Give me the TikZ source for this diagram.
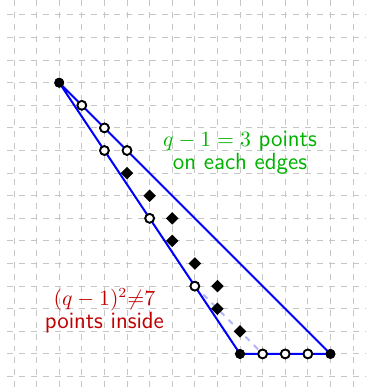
\documentclass[tikz,border=0pt]{standalone}
\usetikzlibrary{shapes.geometric}
\newcommand{\mth}[1]{{\fontsize{10.6}{11}\selectfont$#1$}}
\begin{document}
\begin{tikzpicture}[x=0.4cm,y=0.4cm,
  gridline/.style={gray!45,dashed,line width=0.5pt},
  edge/.style={blue,line width=1pt},
  vtx/.style={circle,fill=black,inner sep=0pt,minimum size=5pt},
  bpt/.style={circle,draw=black,fill=white,line width=0.9pt,inner sep=0pt,minimum size=4.4pt},
  ipt/.style={diamond,fill=black,inner sep=0pt,minimum size=6.5pt},
  lbl/.style={align=center,font=\sffamily\fontsize{11.8}{11.5}\selectfont}]
\useasboundingbox (-10.62,-1.64) rectangle (5.53,15.66);
% grid
\foreach \y in {-1,...,15} \draw[gridline] (-10.3,\y) -- (5.53,\y);
\foreach \x in {-10,...,5} \draw[gridline] (\x,15.66) -- (\x,-1.64);
% vertices
\node[vtx] (A) at (-8,12) {};
\node[vtx] (B) at (0,0) {};
\node[vtx] (C) at (4,0) {};
% boundary points
\node[bpt] (l1) at (-6,9) {};
\node[bpt] (l2) at (-4,6) {};
\node[bpt] (l3) at (-2,3) {};
\node[bpt] (r1) at (-7,11) {};
\node[bpt] (r2) at (-6,10) {};
\node[bpt] (r3) at (-5,9) {};
\node[bpt] (b1) at (1,0) {};
\node[bpt] (b2) at (2,0) {};
\node[bpt] (b3) at (3,0) {};
% dashed helper
\draw[blue!30,dashed,line width=1pt] (l3.center) -- (b1.center);
% triangle
\draw[edge] (A.center) -- (B.center) -- (C.center) -- cycle;
% redraw points on top
\foreach \n in {l1,l2,l3,r1,r2,r3,b1,b2,b3} \node[bpt] at (\n) {};
\foreach \n in {A,B,C} \node[vtx] at (\n) {};
% interior points
\node[ipt] (i1) at (-5,8) {};
\node[ipt] (i2) at (-4,7) {};
\node[ipt] (i3) at (-3,6) {};
\node[ipt] (i4) at (-3,5) {};
\node[ipt] (i5) at (-2,4) {};
\node[ipt] (i6) at (-1,3) {};
\node[ipt] (i7) at (-1,2) {};
\node[ipt] (i8) at (0,1) {};
% labels
\node[lbl,text=green!70!black] (tg) at (0,8.92) {\mth{q-1=3} points\\on each edges};
\node[lbl,text=red!75!black] (tr) at (-6,1.9) {\mth{(q-1)^2{\neq}7}\\points inside};
\end{tikzpicture}
\end{document}
